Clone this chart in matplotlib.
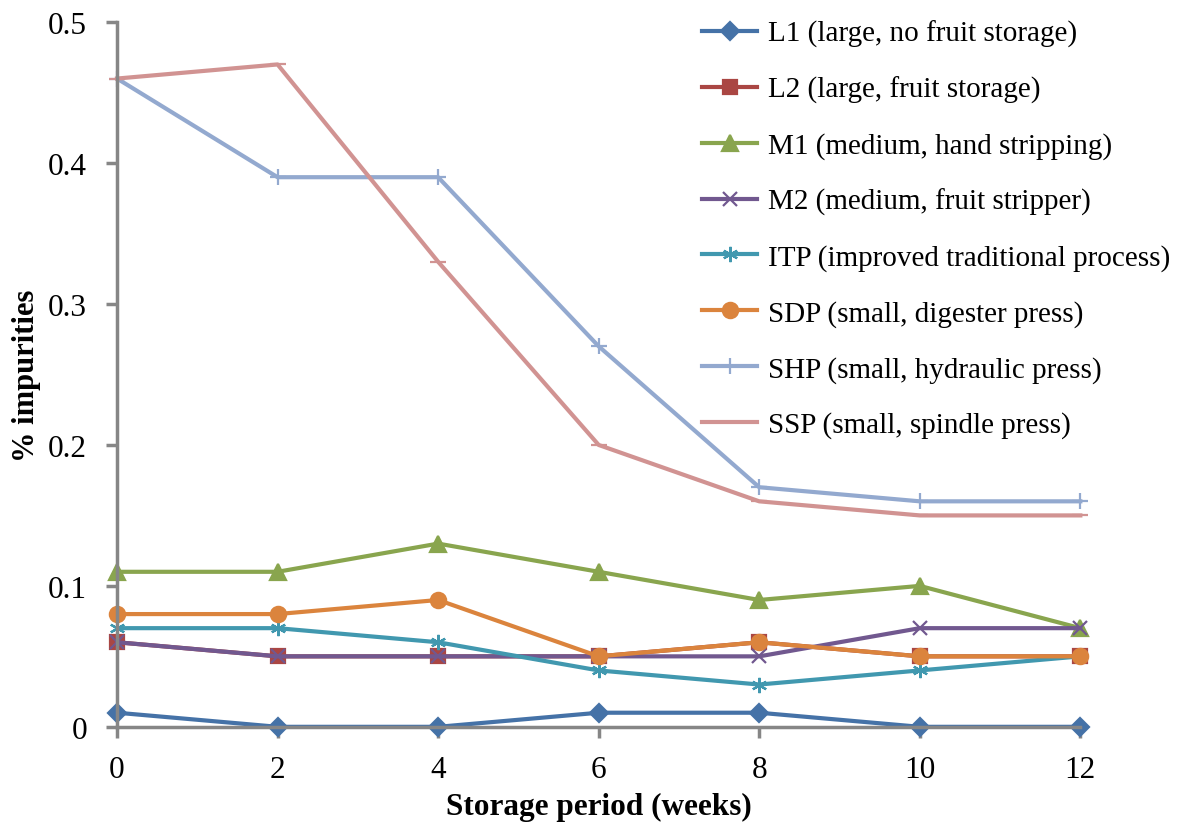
import matplotlib.pyplot as plt

plt.rcParams["font.family"] = ["Liberation Serif", "DejaVu Serif"]

weeks = [0, 2, 4, 6, 8, 10, 12]

l1 = [0.01, 0.00, 0.00, 0.01, 0.01, 0.00, 0.00]
l2 = [0.06, 0.05, 0.05, 0.05, 0.06, 0.05, 0.05]
m1 = [0.11, 0.11, 0.13, 0.11, 0.09, 0.10, 0.07]
m2 = [0.06, 0.05, 0.05, 0.05, 0.05, 0.07, 0.07]
itp = [0.07, 0.07, 0.06, 0.04, 0.03, 0.04, 0.05]
sdp = [0.08, 0.08, 0.09, 0.05, 0.06, 0.05, 0.05]
shp = [0.46, 0.39, 0.39, 0.27, 0.17, 0.16, 0.16]
ssp = [0.46, 0.47, 0.33, 0.20, 0.16, 0.15, 0.15]

labels = [
    "L1 (large, no fruit storage)",
    "L2 (large, fruit storage)",
    "M1 (medium, hand stripping)",
    "M2 (medium, fruit stripper)",
    "ITP (improved traditional process)",
    "SDP (small, digester press)",
    "SHP (small, hydraulic press)",
    "SSP (small, spindle press)",
]

series = [l1, l2, m1, m2, itp, sdp, shp, ssp]
colors = ["#4572A7", "#AA4643", "#89A54E", "#71588F",
          "#4198AF", "#DB843D", "#93A9CF", "#D19392"]
markers = ["D", "s", "^", "x", (6, 2, 0), "o", "+", "_"]
msizes = [9, 9.5, 11, 10, 11, 11, 12, 12]

fig = plt.figure(figsize=(11.82, 8.28), dpi=100)
ax = fig.add_axes([0.099, 0.121, 0.815, 0.851])

for vals, lab, c, m, ms in zip(series, labels, colors, markers, msizes):
    ax.plot(weeks, vals, color=c, lw=3, marker=m, markersize=ms,
            markeredgecolor=c, markeredgewidth=1.6, label=lab, clip_on=False)

ax.set_xlim(0, 12)
ax.set_ylim(0, 0.5)
ax.set_xticks(weeks)
ax.set_yticks([0, 0.1, 0.2, 0.3, 0.4, 0.5])
ax.set_yticklabels(["0", "0.1", "0.2", "0.3", "0.4", "0.5"])

for s in ["top", "right"]:
    ax.spines[s].set_visible(False)
for s in ["left", "bottom"]:
    ax.spines[s].set_color("#868686")
    ax.spines[s].set_linewidth(2.5)
ax.tick_params(colors="#868686", width=2.5, length=8, labelsize=22.5,
               labelcolor="black")
ax.tick_params(axis="x", pad=12)
ax.tick_params(axis="y", pad=13.5)

ax.set_xlabel("Storage period (weeks)", fontsize=22.5, fontweight="bold", labelpad=6)
ax.set_ylabel("% impurities", fontsize=22, fontweight="bold", labelpad=5.5)

ax.legend(loc="upper left", bbox_to_anchor=(0.595, 1.02), frameon=False,
          fontsize=21, handlelength=1.9, handletextpad=0.38,
          labelspacing=0.99, borderaxespad=0)

fig.savefig("out.png", dpi=100)
